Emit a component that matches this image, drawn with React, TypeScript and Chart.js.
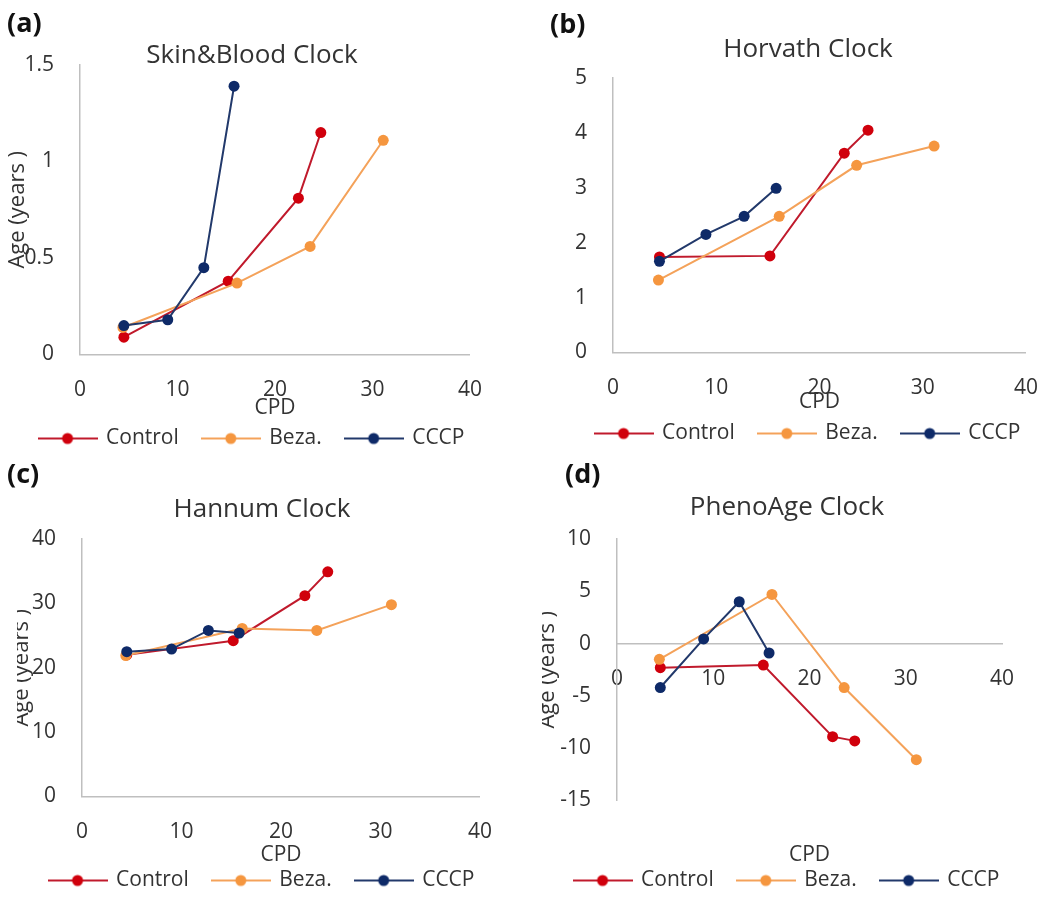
import React, { useEffect, useRef } from "react";
import { Chart, registerables } from "chart.js";

Chart.register(...registerables);

// ---------- data ----------
const seriesNames = ["Control", "Beza.", "CCCP"];
const controlCPD = [4.5, 15.2, 22.4, 24.7];
const bezaCPD = [4.4, 16.1, 23.6, 31.1];
const cccpCPD = [4.5, 9.0, 12.7, 15.8];

const skinControl = [0.09, 0.38, 0.81, 1.15];
const skinBeza = [0.14, 0.37, 0.56, 1.11];
const skinCCCP = [0.15, 0.18, 0.45, 1.39];

const horvathControl = [1.74, 1.76, 3.63, 4.05];
const horvathBeza = [1.32, 2.48, 3.41, 3.76];
const horvathCCCP = [1.66, 2.15, 2.48, 2.99];

const hannumControl = [22.0, 24.2, 31.2, 34.9];
const hannumBeza = [21.9, 26.1, 25.8, 29.8];
const hannumCCCP = [22.5, 22.9, 25.8, 25.4];

const phenoControl = [-2.3, -2.05, -8.9, -9.3];
const phenoBeza = [-1.5, 4.7, -4.2, -11.1];
const phenoCCCP = [-4.2, 0.45, 4.0, -0.9];

const xTickMin = 0;
const xTickMax = 40;
const xTickStep = 10;
const xTitle = "CPD";
const yTitle = "Age (years )";

// ---------- styles ----------
const FONT = "'Open Sans', 'DejaVu Sans', sans-serif";
const TEXT = "#333333";
const AXIS = "#bfbfbf";
const lineColors = ["#c01a2c", "#f4a25a", "#22396b"];
const markerColors = ["#d0000c", "#f5963f", "#0e2a68"];

type Spec = {
  letter: string;
  title: string;
  values: number[][];
  yMin: number;
  yMax: number;
  yStep: number;
  xAtZero: boolean;
  plot: { l: number; r: number; t: number; b: number };
  center: number;
  titleY: number;
  legY: number;
  cpdY: number;
  yTitleX: number;
  letterPos: { x: number; y: number };
};

const panels: Spec[] = [
  {
    letter: "(a)", title: "Skin&Blood Clock",
    values: [skinControl, skinBeza, skinCCCP],
    yMin: 0, yMax: 1.5, yStep: 0.5, xAtZero: false,
    plot: { l: 80, r: 483, t: 65, b: 354 },
    center: 252, titleY: 56, legY: 438, cpdY: 408, yTitleX: 18,
    letterPos: { x: 7, y: 8 },
  },
  {
    letter: "(b)", title: "Horvath Clock",
    values: [horvathControl, horvathBeza, horvathCCCP],
    yMin: 0, yMax: 5, yStep: 1, xAtZero: false,
    plot: { l: 613, r: 1035, t: 78, b: 352 },
    center: 808, titleY: 50, legY: 433, cpdY: 402, yTitleX: 545,
    letterPos: { x: 550, y: 9 },
  },
  {
    letter: "(c)", title: "Hannum Clock",
    values: [hannumControl, hannumBeza, hannumCCCP],
    yMin: 0, yMax: 40, yStep: 10, xAtZero: false,
    plot: { l: 82, r: 490, t: 539, b: 796 },
    center: 262, titleY: 510, legY: 880, cpdY: 855, yTitleX: 22,
    letterPos: { x: 7, y: 459 },
  },
  {
    letter: "(d)", title: "PhenoAge Clock",
    values: [phenoControl, phenoBeza, phenoCCCP],
    yMin: -15, yMax: 10, yStep: 5, xAtZero: true,
    plot: { l: 617, r: 1002, t: 539, b: 800 },
    center: 787, titleY: 508, legY: 880, cpdY: 855, yTitleX: 548,
    letterPos: { x: 565, y: 459 },
  },
];

const cpdArrays = [controlCPD, bezaCPD, cccpCPD];

function legendImage(line: string, marker: string): HTMLCanvasElement {
  const c = document.createElement("canvas");
  c.width = 60;
  c.height = 14;
  const ctx = c.getContext("2d")!;
  ctx.strokeStyle = line;
  ctx.lineWidth = 2;
  ctx.beginPath();
  ctx.moveTo(0, 7);
  ctx.lineTo(60, 7);
  ctx.stroke();
  ctx.fillStyle = marker;
  ctx.beginPath();
  ctx.arc(30, 7, 5.5, 0, Math.PI * 2);
  ctx.fill();
  return c;
}

const plainNumber = (v: any) => String(Number(v));

function Panel({ spec }: { spec: Spec }) {
  const ref = useRef<HTMLCanvasElement | null>(null);
  const W = 490;
  const L = Math.round(spec.center - W / 2);
  const T = Math.round(spec.titleY - 23);
  const H = Math.round(spec.legY + 20.5 - T);
  const R = L + W - spec.plot.r;
  const yW = spec.plot.l - L;

  useEffect(() => {
    if (!ref.current) return;
    const titleLH = 26;
    const titlePadTop = spec.titleY - T - titleLH / 2;
    const titlePadBottom = spec.plot.t - T - titlePadTop - titleLH;
    const legendTop = spec.legY - 34.5;
    const xH = legendTop - spec.plot.b;
    const cpdPad = legendTop - 10.5 - spec.cpdY;
    const yTitlePad = spec.yTitleX - L - 11;
    const imgs = seriesNames.map((_, i) => legendImage(lineColors[i], markerColors[i]));

    const tickFont = { family: FONT, size: 21, lineHeight: 1.2 };
    const cpdTitle = {
      display: true,
      text: xTitle,
      color: TEXT,
      font: { family: FONT, size: 21, lineHeight: 1 },
      padding: { top: 0, bottom: cpdPad },
    };

    const scales: any = {
      x: {
        type: "linear",
        min: xTickMin,
        max: xTickMax,
        position: spec.xAtZero ? { y: 0 } : "bottom",
        ticks: { stepSize: xTickStep, padding: 15, color: TEXT, font: tickFont, callback: plainNumber },
        grid: { display: false },
        border: { display: true, color: AXIS, width: 1.5 },
        title: spec.xAtZero ? { display: false } : cpdTitle,
        afterFit: spec.xAtZero ? undefined : (s: any) => { s.height = xH; },
      },
      y: {
        type: "linear",
        min: spec.yMin,
        max: spec.yMax,
        position: "left",
        ticks: { stepSize: spec.yStep, padding: 18, color: TEXT, font: tickFont, callback: plainNumber },
        grid: { display: false },
        border: { display: true, color: AXIS, width: 1.5 },
        title: {
          display: true,
          text: yTitle,
          color: TEXT,
          font: { family: FONT, size: 22, lineHeight: 1 },
          padding: { top: yTitlePad, bottom: 0 },
        },
        afterFit: (s: any) => { s.width = yW; },
      },
      y2: {
        type: "linear",
        position: "right",
        display: true,
        ticks: { display: false },
        grid: { display: false },
        border: { display: false },
        afterFit: (s: any) => { s.width = R; },
      },
    };
    if (spec.xAtZero) {
      scales.x2 = {
        type: "linear",
        position: "bottom",
        display: true,
        ticks: { display: false },
        grid: { display: false },
        border: { display: false },
        title: cpdTitle,
        afterFit: (s: any) => { s.height = xH; },
      };
    }

    const chart = new Chart(ref.current, {
      type: "scatter",
      data: {
        datasets: seriesNames.map((name, i) => ({
          label: name,
          data: cpdArrays[i].map((x, j) => ({ x, y: spec.values[i][j] })),
          showLine: true,
          borderColor: lineColors[i],
          backgroundColor: markerColors[i],
          borderWidth: 2,
          pointRadius: 5.5,
          pointHoverRadius: 5.5,
          pointBackgroundColor: markerColors[i],
          pointBorderColor: markerColors[i],
          pointBorderWidth: 0,
          order: 3 - i,
        })),
      },
      options: {
        responsive: false,
        maintainAspectRatio: false,
        animation: false,
        layout: { padding: 0 },
        events: [],
        plugins: {
          title: {
            display: true,
            text: spec.title,
            color: TEXT,
            font: { family: FONT, size: 26, weight: "normal", lineHeight: 1 },
            padding: { top: titlePadTop, bottom: titlePadBottom },
          },
          legend: {
            display: true,
            position: "bottom",
            labels: {
              usePointStyle: true,
              pointStyleWidth: 56,
              padding: 24,
              color: TEXT,
              font: { family: FONT, size: 21, lineHeight: 1 },
              generateLabels: () =>
                seriesNames.map((name, i) => ({
                  text: name,
                  datasetIndex: i,
                  pointStyle: imgs[i],
                  fillStyle: markerColors[i],
                  strokeStyle: lineColors[i],
                  lineWidth: 0,
                  hidden: false,
                  fontColor: TEXT,
                })),
              sort: (a: any, b: any) => a.datasetIndex - b.datasetIndex,
            },
          },
          tooltip: { enabled: false },
        },
        scales,
      } as any,
    });
    return () => chart.destroy();
  }, []);

  return (
    <canvas
      ref={ref}
      width={W}
      height={H}
      style={{ position: "absolute", left: L, top: T, width: W, height: H }}
    />
  );
}

export default function App() {
  return (
    <div
      style={{
        position: "absolute",
        left: 0,
        top: 0,
        width: 1050,
        height: 904,
        overflow: "hidden",
        background: "#ffffff",
        fontFamily: FONT,
      }}
    >
      {panels.map((p) => (
        <React.Fragment key={p.letter}>
          <Panel spec={p} />
          <div
            style={{
              position: "absolute",
              left: p.letterPos.x,
              top: p.letterPos.y,
              fontSize: 27,
              fontWeight: 700,
              lineHeight: "27px",
              color: "#111",
            }}
          >
            {p.letter}
          </div>
        </React.Fragment>
      ))}
    </div>
  );
}
